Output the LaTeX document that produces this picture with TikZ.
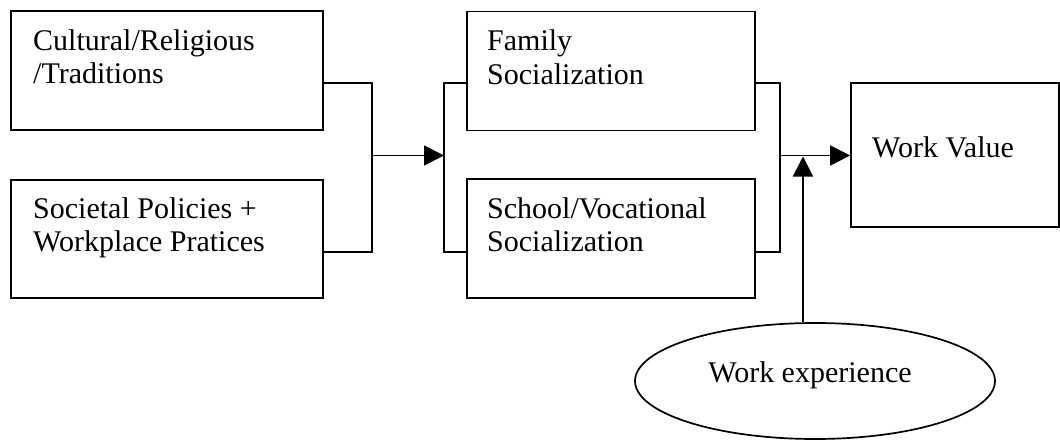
\documentclass[tikz,border=0pt]{standalone}
\usepackage{fontspec}
\setmainfont{Liberation Serif}
\usetikzlibrary{arrows.meta,shapes.geometric}
\tikzset{
  box/.style={draw, line width=1.7pt, inner sep=0pt},
  txt/.style={anchor=base west, align=left, inner sep=0pt, font=\fontsize{30}{33.5}\selectfont},
  conn/.style={line width=1.7pt},
  arr/.style={line width=1.7pt, -{Triangle[length=20pt,width=20pt]}}
}
\begin{document}
\begin{tikzpicture}[x=1pt, y=-1pt]
\useasboundingbox (0,0) rectangle (1060,439);
% boxes
\node[box, minimum width=312pt, minimum height=119pt] (b1) at (167,70.5) {};
\node[box, minimum width=312pt, minimum height=118pt] (b2) at (167,239) {};
\node[box, minimum width=288pt, minimum height=119pt] (b3) at (611,71) {};
\node[box, minimum width=288pt, minimum height=119pt] (b4) at (611,238.5) {};
\node[box, minimum width=208pt, minimum height=144pt] (b5) at (955,155) {};
\node[draw, line width=1.7pt, ellipse, minimum width=360pt, minimum height=116pt, inner sep=0pt] (ell) at (815,381) {};
% texts (anchor = baseline of last line)
\node[txt] (t1) at (33,83.5) {Cultural/Religious\\/Traditions};
\node[txt] (t2) at (33,251.5) {Societal Policies +\\Workplace Pratices};
\node[txt] (t3) at (487,84) {Family\\Socialization};
\node[txt] (t4) at (487,251.5) {School/Vocational\\Socialization};
\node[txt] (t5) at (872,157) {Work Value};
\node[txt, anchor=base] (t6) at (810,382) {Work experience};
% junctions
\coordinate (jl) at (372,155.5);
\coordinate (jr) at (444,155.5);
\coordinate (jo) at (780,155.5);
\coordinate (up) at (803,156.5);
% connectors
\draw[conn] ([yshift=-12.5pt]b1.east) -| (jl) |- ([yshift=-13pt]b2.east);
\draw[arr] (jl) -- (jr);
\draw[conn] ([yshift=-12pt]b3.west) -| (jr) |- ([yshift=-13.5pt]b4.west);
\draw[conn] ([yshift=-12pt]b3.east) -| (jo) |- ([yshift=-13.5pt]b4.east);
\draw[arr] (jo) -- (b5.west |- jo);
\draw[arr] ([xshift=-12pt]ell.north) -- (up);
\end{tikzpicture}
\end{document}
